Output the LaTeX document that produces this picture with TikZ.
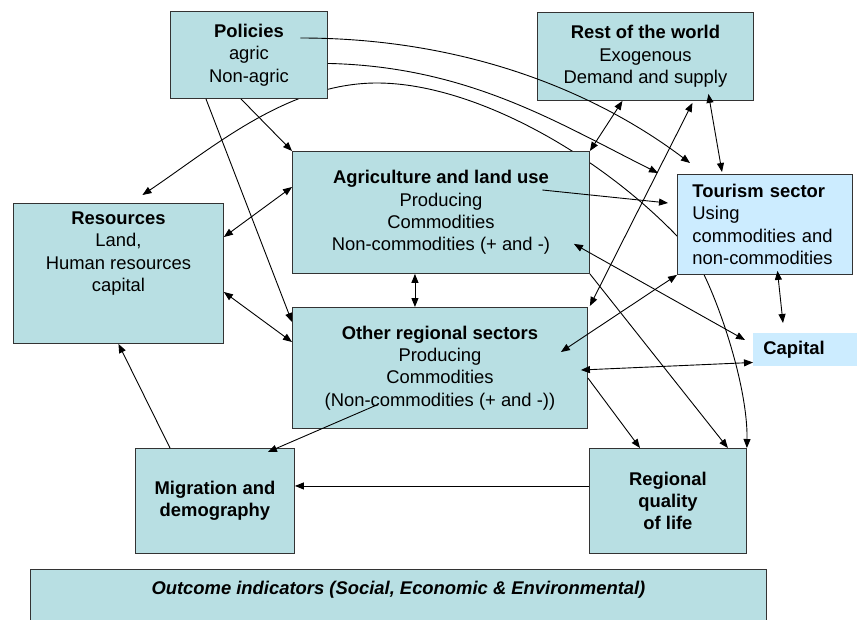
\documentclass[tikz,border=0pt]{standalone}
\usepackage{fontspec}
\setmainfont{Liberation Sans}
\usepackage{tikz}
\usetikzlibrary{arrows.meta, backgrounds}
\definecolor{boxteal}{RGB}{184,223,227}
\definecolor{boxblue}{RGB}{204,236,255}
\tikzset{box/.style={draw=black!80, fill=boxteal, line width=0.9pt, inner sep=0pt, align=center, anchor=north west, font=\fontsize{18.4}{22.3}\selectfont},
  tbox/.style={box, fill=boxblue, align=left, inner xsep=15pt},
  link/.style={line width=0.9pt, -{Triangle[length=9pt,width=7pt]}},
  blink/.style={line width=0.9pt, {Triangle[length=9pt,width=7pt]}-{Triangle[length=9pt,width=7pt]}}}

\begin{document}
\begin{tikzpicture}[x=1pt, y=-1pt]
\useasboundingbox (0,0) rectangle (857,619);
\node[box, minimum width=157pt, minimum height=87pt] (pol) at (170,11) {\textbf{Policies}\\agric\\Non-agric};
\node[box, minimum width=216pt, minimum height=88pt] (row) at (537,12) {\textbf{Rest of the world}\\Exogenous\\Demand and supply};
\node[box, minimum width=297pt, minimum height=122pt] (agri) at (292,151) {\textbf{Agriculture and land use}\\Producing\\Commodities\\Non-commodities (+ and -)};
\node[tbox, text width=145pt, minimum height=100pt] (tour) at (677,174) {\textbf{Tourism sector}\\Using\\commodities and\\non-commodities};
\node[box, minimum width=210pt, minimum height=140pt] (res) at (13,203) {\textbf{Resources}\\Land,\\Human resources\\capital\\[21pt]\mbox{}};
\node[box, minimum width=295pt, minimum height=121pt] (oth) at (292,307) {\textbf{Other regional sectors}\\Producing\\Commodities\\(Non-commodities (+ and -))};
\node[box, fill=boxblue, draw=none, align=left, text width=84pt, inner xsep=10pt, minimum height=33pt] (cap) at (753,333) {\textbf{Capital}};
\node[box, minimum width=159pt, minimum height=105pt] (mig) at (135,448) {\textbf{Migration and}\\\textbf{demography}};
\node[box, minimum width=157pt, minimum height=105pt] (qol) at (589,448) {\textbf{Regional}\\\textbf{quality}\\\textbf{of life}};
\node[box, minimum width=736pt, inner ysep=11.4pt, text height=13.2pt, text depth=40pt] (out) at (30,569) {\textbf{\textit{Outcome indicators (Social, Economic \& Environmental)}}};
\coordinate (arcpeak) at (377,83);
\coordinate (arcbend) at (690,250);
\begin{pgfonlayer}{background}
\draw[blink] ([xshift=24pt,yshift=8pt]res.north) .. controls +(70,-47) and +(-90,0) .. (arcpeak) .. controls +(100,0) and +(-80,-90) .. (arcbend) .. controls +(22,30) and +(1,-67) .. (qol.north east);
\end{pgfonlayer}
\draw[link] ([xshift=-8pt]pol.south) -- (agri.north west);
\draw[link] ([xshift=-43pt]pol.south) -- ([yshift=-15pt]oth.north west);
\draw[link] ([xshift=51.5pt,yshift=-27pt]pol.north) .. controls +(170,0) and +(-90,-68) .. ([xshift=13pt,yshift=11pt]tour.north west);
\draw[link] ([yshift=-8.5pt]pol.east) .. controls +(140,3) and +(-100,-50) .. ([xshift=-19pt,yshift=1pt]tour.north west);
\draw[blink] ([yshift=-34pt]res.north east) -- ([yshift=-36pt]agri.north west);
\draw[blink] ([yshift=-89pt]res.north east) -- ([yshift=-35pt]oth.north west);
\draw[link] ([xshift=35pt]mig.north west) -- (res.south);
\draw[link] ([xshift=-63pt,yshift=24pt]oth.south) -- ([xshift=-27pt,yshift=-4pt]mig.north east);
\draw[link] ([yshift=15pt]qol.west) -- ([yshift=15pt]mig.east);
\draw[blink] ([xshift=-26pt]agri.south) -- ([xshift=-26pt]agri.south |- oth.north);
\draw[link] ([yshift=-71pt]oth.north east) -- ([xshift=51pt]qol.north west);
\draw[link] (agri.south east) -- ([xshift=-19pt]qol.north east);
\draw[blink] ([xshift=-23pt]row.south) -- (agri.north east);
\draw[blink] ([xshift=47pt,yshift=-2pt]row.south) -- ([xshift=2pt,yshift=1pt]oth.north east);
\draw[blink] ([xshift=63pt,yshift=7pt]row.south) -- ([xshift=45pt,yshift=2pt]tour.north west);
\draw[link] ([xshift=101.5pt,yshift=-39pt]agri.north) -- ([xshift=-9pt,yshift=-29pt]tour.north west);
\draw[blink] (tour.south west) -- ([xshift=-27pt,yshift=-45pt]oth.north east);
\draw[blink] ([xshift=-16pt,yshift=30pt]agri.south east) -- ([xshift=-8pt,yshift=-7pt]cap.north west);
\draw[blink] ([xshift=-7pt,yshift=-63pt]oth.north east) -- ([yshift=-12.5pt]cap.west);
\draw[blink] ([xshift=12.5pt,yshift=4pt]tour.south) -- ([xshift=30pt,yshift=10pt]cap.north west);
\end{tikzpicture}
\end{document}
